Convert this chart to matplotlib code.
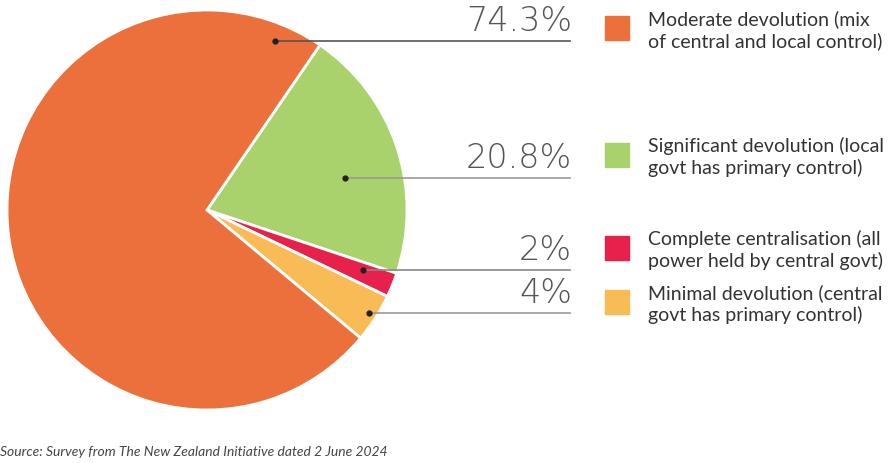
import numpy as np
import matplotlib.pyplot as plt

# data
categories = ['Moderate devolution (mix\nof central and local control)',
              'Significant devolution (local\ngovt has primary control)',
              'Complete centralisation (all\npower held by central govt)',
              'Minimal devolution (central\ngovt has primary control)']
values = [74.3, 20.8, 2, 4]
pct_labels = ['74.3%', '20.8%', '2%', '4%']
colors = ['#EC703C', '#AAD26C', '#E8204C', '#F8BB56']

# pie goes clockwise from the orange/green boundary: green, red, yellow, orange
order = [1, 2, 3, 0]

W, H = 893, 463
fig = plt.figure(figsize=(W / 100, H / 100), dpi=100)

cx, cy, R = 207, 210, 200
ax = fig.add_axes([(cx - R) / W, (H - cy - R) / H, 2 * R / W, 2 * R / H])
ax.pie([values[i] for i in order], colors=[colors[i] for i in order],
       startangle=55.6, counterclock=False, radius=1,
       wedgeprops=dict(edgecolor='white', linewidth=2))
ax.set_xlim(-1, 1)
ax.set_ylim(-1, 1)
ax.set_aspect('equal')
ax.axis('off')

# leader lines: dot inside slice, horizontal line to the right, value above
dot_x = [0.34, 0.69, 0.78, 0.81]
line_y = [0.845, 0.16, -0.30, -0.515]
line_col = ['#555555', '#999999', '#888888', '#999999']
x_end = (570 - cx) / R
for i in range(4):
    ax.plot([dot_x[i], x_end], [line_y[i], line_y[i]], color=line_col[i],
            lw=1.2, clip_on=False)
    ax.plot(dot_x[i], line_y[i], 'o', color='#222222', ms=3.5, clip_on=False)
    ax.text(x_end + 0.01, line_y[i] + 0.015, pct_labels[i], ha='right', va='bottom',
            fontsize=24, color='#555555', family='DejaVu Sans', fontweight='light')

# legend
leg_y = [28, 155, 248, 302]
for i in range(4):
    fig.patches.append(plt.Rectangle(((605) / W, (H - leg_y[i] - 12) / H), 24 / W, 24 / H,
                                     transform=fig.transFigure, color=colors[i]))
    fig.text(648 / W, (H - leg_y[i] - 2) / H, categories[i], ha='left', va='center',
             fontsize=14, color='#333333', family='Lato', linespacing=1.3)

fig.text(0 / W, (H - 452) / H, 'Source: Survey from The New Zealand Initiative dated 2 June 2024',
         ha='left', va='center', fontsize=10, color='#444444', family='Lato', style='italic')

fig.savefig('out.png', dpi=100)
